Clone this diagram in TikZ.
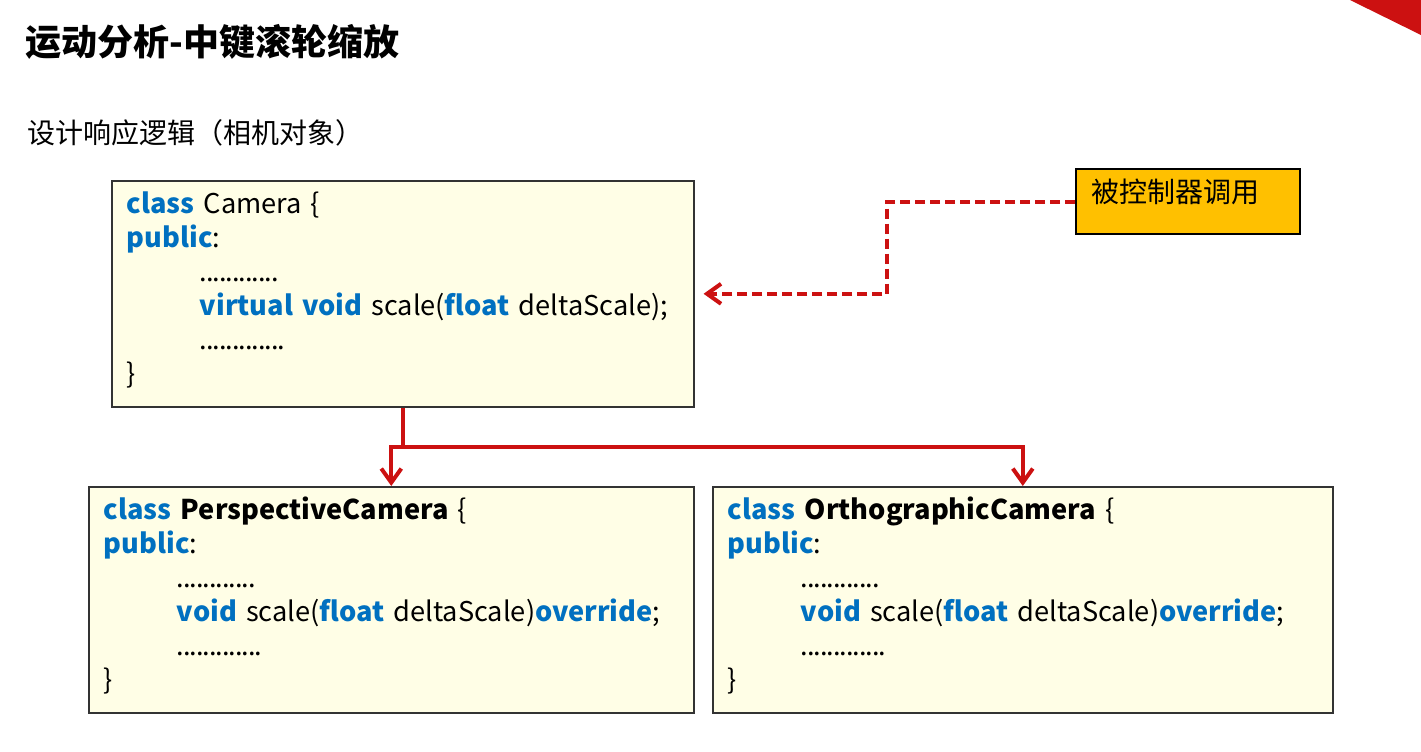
\documentclass[tikz,border=0pt]{standalone}
\usepackage{fontspec}
\setmainfont{Noto Sans CJK SC}
\newfontfamily\dotsfont[LetterSpace=-4]{Noto Sans CJK SC}
\usetikzlibrary{arrows.meta,positioning}
\definecolor{kwblue}{RGB}{0,112,192}
\definecolor{linkred}{RGB}{204,17,17}
\definecolor{boxfill}{RGB}{255,254,230}
\definecolor{callfill}{RGB}{255,192,0}
\newcommand{\kw}[1]{\textbf{\textcolor{kwblue}{#1}}}
\newcommand{\tabin}{\hspace*{36.5pt}}
\newcommand{\dotrow}[1]{{\dotsfont #1}}

\begin{document}
\begin{tikzpicture}[x=0.5pt,y=-0.5pt,>={Straight Barb[length=7pt,width=10pt]},
  codebox/.style={draw=black!80,line width=0.8pt,fill=boxfill,anchor=north west,
    align=left,inner xsep=7.5pt,inner ysep=0pt,minimum height=113pt,
    text height=11pt,text depth=91pt,font=\fontsize{13.6}{17}\selectfont},
  callbox/.style={draw=black,line width=1pt,fill=callfill,anchor=north west,
    align=left,inner xsep=7.5pt,inner ysep=4pt,text height=12.5pt,text depth=12pt,
    font=\fontsize{14}{16}\selectfont},
  inherit/.style={draw=linkred,line width=2pt,->},
  calls/.style={inherit,dash pattern=on 5pt off 2.5pt}]
\useasboundingbox (0,0) rectangle (1421,751);
%%
% Corner
\fill[linkred] (1350,0) -- (1421,0) -- (1421,35) -- cycle;
% Headings
\node[anchor=west,inner sep=0pt,font=\fontsize{18}{20}\selectfont\bfseries] (title) at (25,42) {运动分析-中键滚轮缩放};
\node[anchor=west,inner sep=0pt,font=\fontsize{14}{16}\selectfont] (subtitle) at (27,133) {设计响应逻辑（相机对象）};
%
% Node: cam
\node[codebox,text width=276pt] (cam) at (111,180) {%
\kw{class} Camera \{\\
\kw{public}:\\
\tabin\dotrow{............}\\
\tabin\kw{virtual void} scale(\kw{float} deltaScale);\\
\tabin\dotrow{.............}\\
\}};
% Node: persp
\node[codebox,text width=287.5pt] (persp) at (88,486) {%
\kw{class} \textbf{PerspectiveCamera} \{\\
\kw{public}:\\
\tabin\dotrow{............}\\
\tabin\kw{void} scale(\kw{float} deltaScale)\kw{override};\\
\tabin\dotrow{.............}\\
\}};
% Node: ortho
\node[codebox,text width=295pt] (ortho) at (712,486) {%
\kw{class} \textbf{OrthographicCamera} \{\\
\kw{public}:\\
\tabin\dotrow{............}\\
\tabin\kw{void} scale(\kw{float} deltaScale)\kw{override};\\
\tabin\dotrow{.............}\\
\}};
% Node: caller
\node[callbox,text width=97pt] (caller) at (1075,168) {被控制器调用};
%
% Edge: caller -> cam
\draw[calls] (caller.west) -- ++(-188,0) |- ([xshift=4.5pt]cam.east);
% Edge: cam -> persp, cam -> ortho
\draw[linkred,line width=2pt] (cam.south) -- ++(0,39) coordinate (split);
\draw[inherit] (split) -| (persp.north);
\draw[inherit] (split) -| (ortho.north);
%
\end{tikzpicture}
\end{document}
